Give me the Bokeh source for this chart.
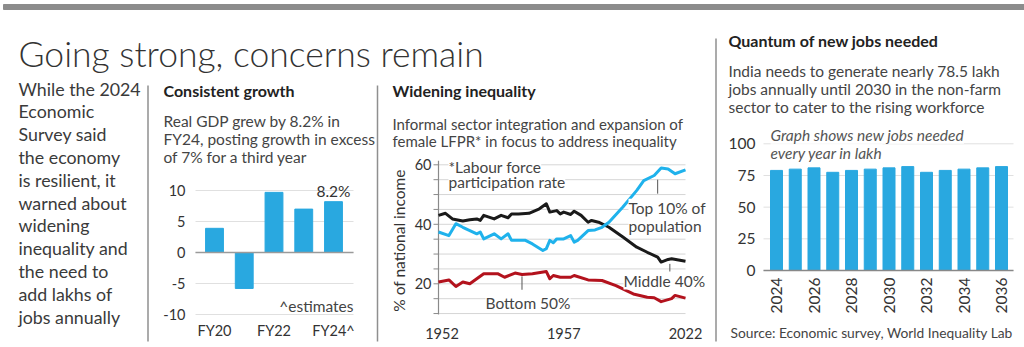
import math
from bokeh.plotting import figure
from bokeh.models import Label, Range1d, ColumnDataSource
from bokeh.embed import file_html
from bokeh.resources import INLINE
from bokeh.core.properties import value

FONT = "Lato"
TXT = "#333333"
GREY_TXT = "#444444"
BAR = "#29a8e0"
SEP = "#8f8f8f"
GRID = "#e0e0e0"
W, H = 1024, 347

# ---------------- data ----------------
gdp_years = ["FY20", "FY21", "FY22", "FY23", "FY24"]
gdp_growth = [3.9, -5.8, 9.7, 7.0, 8.2]
gdp_x_labels = ["FY20", "", "FY22", "", "FY24^"]
gdp_y_ticks = [-10, -5, 0, 5, 10]

top10_years = [1951, 1954, 1956, 1958, 1960, 1962, 1963, 1964, 1967, 1969, 1971, 1972,
               1976, 1978, 1981, 1982, 1983, 1984, 1985, 1987, 1989, 1990, 1991, 1994,
               1996, 1998, 2000, 2004, 2008, 2010, 2013, 2015, 2017, 2019, 2022]
top10_share = [37.4, 36.2, 40.2, 39.0, 37.9, 36.8, 37.4, 35.1, 36.8, 35.1, 36.8, 34.6,
               34.6, 33.4, 31.2, 31.8, 34.6, 33.8, 35.1, 35.1, 36.2, 34.0, 34.6, 37.9,
               38.1, 39.0, 40.7, 45.8, 51.4, 54.7, 56.4, 58.9, 58.6, 57.0, 58.3]

mid40_years = [1951, 1953, 1955, 1958, 1960, 1962, 1963, 1964, 1967, 1969, 1971, 1972,
               1974, 1977, 1980, 1982, 1983, 1985, 1986, 1987, 1989, 1990, 1992, 1994,
               1995, 1997, 2000, 2004, 2008, 2011, 2014, 2015, 2017, 2018, 2022]
mid40_share = [43.0, 43.7, 41.8, 41.1, 41.5, 41.8, 41.3, 43.0, 41.8, 43.0, 42.2, 43.5,
               43.5, 43.7, 45.2, 46.9, 44.1, 44.6, 43.5, 44.1, 43.3, 44.4, 43.0, 40.7,
               41.3, 40.7, 39.0, 35.7, 32.3, 30.6, 29.0, 27.3, 28.2, 28.4, 27.6]

bot50_years = [1951, 1954, 1956, 1958, 1960, 1962, 1964, 1968, 1970, 1973, 1975, 1978,
               1982, 1983, 1984, 1986, 1989, 1990, 1994, 1998, 2002, 2007, 2011, 2013,
               2015, 2018, 2019, 2022]
bot50_share = [20.6, 21.3, 19.1, 20.6, 20.0, 21.7, 23.4, 23.4, 22.2, 23.6, 23.1, 23.4,
               24.1, 21.7, 22.8, 22.2, 22.2, 22.8, 21.3, 21.1, 19.4, 16.6, 15.5, 15.3,
               14.0, 15.0, 16.1, 15.2]

ineq_x_ticks = [1952, 1987, 2022]
ineq_x_labels = ["1952", "1957", "2022"]
ineq_y_major = [20, 40, 60]
ineq_y_grid = [10, 15, 20, 25, 30, 35, 40, 45, 50, 55, 60]

job_years = ["2024", "2025", "2026", "2027", "2028", "2029", "2030",
             "2031", "2032", "2033", "2034", "2035", "2036"]
jobs_lakh = [79, 80, 81, 77.5, 79, 80, 81, 82, 77.5, 79, 80, 81, 82]
job_x_labels = ["2024", "", "2026", "", "2028", "", "2030", "", "2032", "", "2034", "", "2036"]
job_y_ticks = [0, 25, 50, 75, 100]

left_text = ["While the 2024", "Economic", "Survey said", "the economy",
             "is resilient, it", "warned about", "widening", "inequality and",
             "the need to", "add lakhs of", "jobs annually"]


# ---------------- helpers ----------------
def x_map(v0, px0, v1, px1):
    k = (px1 - px0) / (v1 - v0)
    return Range1d(start=v0 - px0 / k, end=v0 + (W - px0) / k), k


def y_map(v0, py0, v1, py1):
    k = (py1 - py0) / (v1 - v0)
    return Range1d(start=v0 + (H - py0) / k, end=v0 - py0 / k), -k


p = figure(width=W, height=H, x_range=Range1d(0, W), y_range=Range1d(H, 0),
           x_axis_type=None, y_axis_type=None, min_border=0,
           toolbar_location=None, output_backend="svg")
p.outline_line_color = None
p.grid.visible = False
p.background_fill_color = "white"
p.border_fill_color = "white"


def lab(x, y, text, size=15.5, style="normal", color=GREY_TXT, align="left",
        baseline="middle", bg=None, font=FONT, angle=0.0):
    l = Label(x=x, y=y, text=text, text_font=font, text_font_size=f"{size}px",
              text_font_style=style, text_color=color, text_align=align,
              text_baseline=baseline, angle=angle)
    if bg is not None:
        l.background_fill_color = bg
    p.add_layout(l)


def txt(xs, ys, texts, xr, yr, size=14.5, align="center", baseline="middle",
        xo=0, yo=0, angle=0.0, color=TXT):
    p.text(x=xs, y=ys, text=texts, x_range_name=xr, y_range_name=yr,
           text_font=value(FONT), text_font_size=f"{size}px", text_color=color,
           text_align=align, text_baseline=baseline, x_offset=xo, y_offset=yo,
           angle=angle)


# ---------------- decorations ----------------
p.quad(left=[3], right=[W], top=[4], bottom=[9], color="#8c8c8c")
p.segment(x0=[147.5, 377.0, 715.5], y0=[85, 85, 38], x1=[147.5, 377.0, 715.5],
          y1=[341, 341, 341], line_color=SEP, line_width=1.5)

lab(18, 53, "Going strong, concerns remain", size=35.5, font="Lato Light",
    baseline="alphabetic", color="#333333")
for i, t in enumerate(left_text):
    lab(18, 88 + 22.8 * i, t, size=17.8, color="#3a3a3a")

# ---------------- panel 1: GDP ----------------
p.extra_x_ranges["g1x"], k1x = x_map(0, 214, 4, 333)
p.extra_y_ranges["g1y"], k1y = y_map(0, 252, 10, 190)
g1_idx = list(range(len(gdp_years)))
g1_lo, g1_hi = -19 / k1x, len(gdp_years) - 1 + 20 / k1x
p.segment(x0=[g1_lo] * len(gdp_y_ticks), x1=[g1_hi] * len(gdp_y_ticks),
          y0=gdp_y_ticks, y1=gdp_y_ticks, x_range_name="g1x", y_range_name="g1y",
          line_color=GRID, line_width=1)
src1 = ColumnDataSource(dict(idx=g1_idx, growth=gdp_growth))
p.vbar(x="idx", top="growth", width=0.6, source=src1, color=BAR,
       x_range_name="g1x", y_range_name="g1y")
p.segment(x0=[g1_lo], x1=[g1_hi], y0=[0], y1=[0], x_range_name="g1x", y_range_name="g1y",
          line_color="#9a9a9a", line_width=1.5)
txt([g1_lo] * len(gdp_y_ticks), gdp_y_ticks, [str(t) for t in gdp_y_ticks], "g1x", "g1y",
    align="right", xo=-10)
txt(g1_idx, [min(gdp_y_ticks)] * len(g1_idx), gdp_x_labels, "g1x", "g1y", yo=16)
txt([g1_idx[-1]], [gdp_growth[-1]], [f"{gdp_growth[-1]}%"], "g1x", "g1y",
    size=15.5, baseline="bottom", yo=-2)

lab(163, 90, "Consistent growth", size=16, style="bold", color="#222222")
for i, t in enumerate(["Real GDP grew by 8.2% in", "FY24, posting growth in excess",
                       "of 7% for a third year"]):
    lab(163, 120 + 18.2 * i, t)
lab(353, 305, "^estimates", align="right")

# ---------------- panel 2: inequality ----------------
p.extra_x_ranges["g2x"], k2x = x_map(1951, 438, 2022, 685)
p.extra_y_ranges["g2y"], k2y = y_map(20, 283.3, 60, 164.3)
x0_2, x1_2 = 1951, 2022
p.segment(x0=[x0_2] * len(ineq_y_grid), x1=[x1_2] * len(ineq_y_grid),
          y0=ineq_y_grid, y1=ineq_y_grid, x_range_name="g2x", y_range_name="g2y",
          line_color="#d6d6d6", line_width=1)
tick_len = 5 / k2x
p.segment(x0=[x0_2 - tick_len] * len(ineq_y_grid), x1=[x0_2] * len(ineq_y_grid),
          y0=ineq_y_grid, y1=ineq_y_grid, x_range_name="g2x", y_range_name="g2y",
          line_color="#8a8a8a", line_width=1)
p.segment(x0=[x0_2], x1=[x0_2], y0=[min(ineq_y_grid) - 0.3], y1=[max(ineq_y_grid) + 1.4],
          x_range_name="g2x", y_range_name="g2y", line_color="#8a8a8a", line_width=1.2)
txt([x0_2] * len(ineq_y_major), ineq_y_major, [str(t) for t in ineq_y_major], "g2x", "g2y",
    align="right", xo=-7)
txt(ineq_x_ticks, [min(ineq_y_grid)] * len(ineq_x_ticks), ineq_x_labels, "g2x", "g2y",
    yo=20)
p.line(bot50_years, bot50_share, line_width=3, color="#b3121d", line_join="round",
       x_range_name="g2x", y_range_name="g2y")
p.line(mid40_years, mid40_share, line_width=3, color="#1a1a1a", line_join="round",
       x_range_name="g2x", y_range_name="g2y")
p.line(top10_years, top10_share, line_width=3, color="#1fb2ec", line_join="round",
       x_range_name="g2x", y_range_name="g2y")
p.segment(x0=[2014, 2017.5, 1975], y0=[55.0, 26.7, 22.5],
          x1=[2014, 2017.5, 1975], y1=[50.3, 23.0, 18.0],
          x_range_name="g2x", y_range_name="g2y", line_color="#555555", line_width=1)

lab(398, 240, "% of national income", size=15.5, color=TXT, align="center",
    angle=math.pi / 2)
lab(392, 90, "Widening inequality", size=16, style="bold", color="#222222")
for i, t in enumerate(["Informal sector integration and expansion of",
                       "female LFPR* in focus to address inequality"]):
    lab(392, 123.3 + 16.8 * i, t, size=15)
lab(448, 166.7, "*Labour force", bg="white")
lab(448, 181.7, "participation rate", bg="white")
lab(628, 207.3, "Top 10% of", bg="white")
lab(628, 225, "population", bg="white")
lab(623, 280, "Middle 40%", bg="white")
lab(485, 302.7, "Bottom 50%", bg="white")

# ---------------- panel 3: jobs ----------------
p.extra_x_ranges["g3x"], k3x = x_map(0, 776, 12, 1001)
p.extra_y_ranges["g3y"], k3y = y_map(0, 270, 100, 143.3)
g3_idx = list(range(len(job_years)))
g3_lo, g3_hi = -13 / k3x, len(job_years) - 1 + 12 / k3x
p.segment(x0=[g3_lo] * len(job_y_ticks), x1=[g3_hi] * len(job_y_ticks),
          y0=job_y_ticks, y1=job_y_ticks, x_range_name="g3x", y_range_name="g3y",
          line_color=GRID, line_width=1)
src3 = ColumnDataSource(dict(idx=g3_idx, jobs=jobs_lakh))
p.vbar(x="idx", top="jobs", width=0.64, source=src3, color=BAR,
       x_range_name="g3x", y_range_name="g3y")
p.segment(x0=[g3_lo], x1=[g3_hi], y0=[0], y1=[0], x_range_name="g3x", y_range_name="g3y",
          line_color="#888888", line_width=1.5)
txt([g3_lo] * len(job_y_ticks), job_y_ticks, [str(t) for t in job_y_ticks], "g3x", "g3y",
    size=15.5, align="right", xo=-8)
txt(g3_idx, [0] * len(g3_idx), job_x_labels, "g3x", "g3y", size=15.5, align="right",
    yo=7, angle=math.pi / 2)

lab(728, 40, "Quantum of new jobs needed", size=16, style="bold", color="#222222")
for i, t in enumerate(["India needs to generate nearly 78.5 lakh",
                       "jobs annually until 2030 in the non-farm",
                       "sector to cater to the rising workforce"]):
    lab(728, 70 + 18.3 * i, t)
lab(770, 134.3, "Graph shows new jobs needed", style="italic", color="#555555", bg="white")
lab(770, 152.7, "every year in lakh", style="italic", color="#555555", bg="white")
lab(730, 331.7, "Source: Economic survey, World Inequality Lab", size=13.8)

open("out.html", "w").write(file_html(p, INLINE))
